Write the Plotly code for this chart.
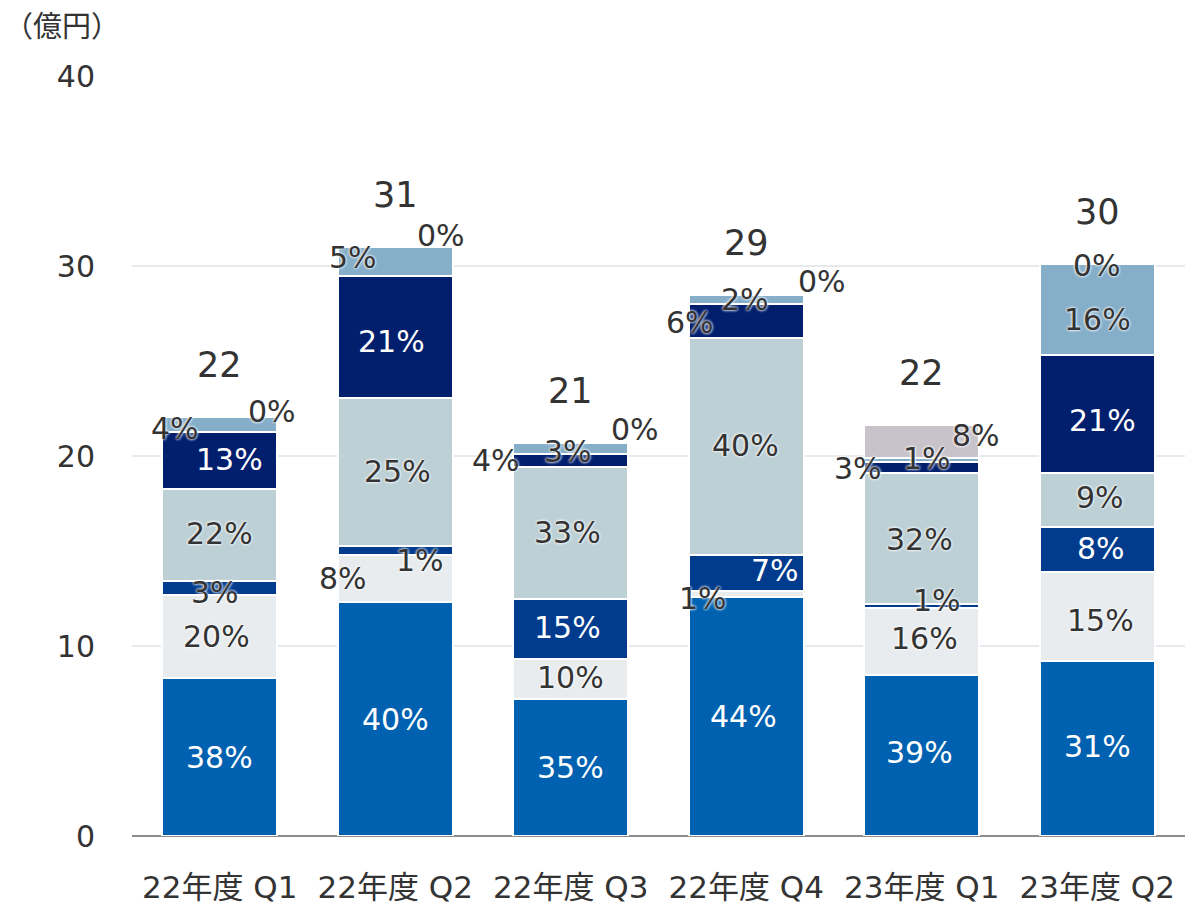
import plotly.graph_objects as go

# ---------------- data ----------------
categories = ["22年度 Q1", "22年度 Q2", "22年度 Q3", "22年度 Q4", "23年度 Q1", "23年度 Q2"]
totals_label = ["22", "31", "21", "29", "22", "30"]

# segment values (億円), bottom to top
seg1 = [8.3, 12.3, 7.2, 12.6, 8.5, 9.2]     # blue
seg2 = [4.4, 2.5, 2.1, 0.3, 3.5, 4.7]       # light gray
seg3 = [0.7, 0.45, 3.15, 1.9, 0.22, 2.35]   # medium navy
seg4 = [4.85, 7.8, 6.95, 11.4, 6.9, 2.85]   # light blue-gray
seg5 = [3.0, 6.4, 0.68, 1.8, 0.55, 6.2]     # dark navy
seg6 = [0.8, 1.55, 0.58, 0.5, 0.22, 4.8]    # steel blue
seg7 = [0.0, 0.0, 0.0, 0.0, 1.75, 0.0]      # gray

pct1 = ["38%", "40%", "35%", "44%", "39%", "31%"]
pct2 = ["20%", "8%", "10%", "1%", "16%", "15%"]
pct3 = ["3%", "1%", "15%", "7%", "1%", "8%"]
pct4 = ["22%", "25%", "33%", "40%", "32%", "9%"]
pct5 = ["13%", "21%", "4%", "6%", "3%", "21%"]
pct6 = ["4%", "5%", "3%", "2%", "1%", "16%"]
pct7 = ["0%", "0%", "0%", "0%", "8%", "0%"]

y_ticks = [0, 10, 20, 30, 40]
unit_label = "（億円）"

# ---------------- styles ----------------
series = [seg1, seg2, seg3, seg4, seg5, seg6, seg7]
pcts = [pct1, pct2, pct3, pct4, pct5, pct6, pct7]
colors = ["#0061B0", "#E8ECEF", "#003B8E", "#BCD0D6", "#021F6E", "#85AEC8", "#C8C3CA"]

# label offsets (xshift, yshift) in px (down positive), per series per category
offsets = [
    [(0, 0), (0, 0), (0, 0), (-3, 0), (-2, -3), (0, -2)],
    [(-3, 0), (-52, 0), (0, -2), (-43, 5), (3, -3), (3, 4)],
    [(-5, 4), (25, 10), (-3, -2), (29, -2), (15, -5), (4, -1)],
    [(0, -2), (2, -1), (-3, -1), (-1, -1), (-2, 1), (3, -3)],
    [(10, -1), (-4, 4), (-75, 0), (-56, 1), (-64, 1), (5, 6)],
    [(-45, 4), (-42, -4), (-3, 3), (-1, 0), (5, -2), (0, 10)],
    [(52, -6), (46, -12), (64, -14), (76, -13), (54, -6), (0, 1)],
]
white_text = [
    [True] * 6,
    [False] * 6,
    [False, False, True, True, False, True],
    [False] * 6,
    [True, True, False, False, False, True],
    [False] * 6,
    [False] * 6,
]

TXT = "#333333"
FONT = "DejaVu Sans, Noto Sans CJK JP, sans-serif"
CJK_FONT = "Noto Sans CJK JP, sans-serif"

fig = go.Figure()
for vals, col in zip(series, colors):
    fig.add_trace(go.Bar(
        x=categories, y=vals, marker=dict(color=col, line=dict(color="white", width=2)),
        width=0.655, hoverinfo="skip", showlegend=False,
    ))

annotations = []
n = len(categories)
for i in range(n):
    base = 0.0
    for s in range(len(series)):
        v = series[s][i]
        mid = base + v / 2
        dx, dy = offsets[s][i]
        wt = white_text[s][i]
        annotations.append(dict(
            x=categories[i], y=mid, xref="x", yref="y", text=pcts[s][i], showarrow=False,
            xshift=dx, yshift=-dy,
            font=dict(size=30, color="white" if wt else TXT, family=FONT,
                      shadow="none" if wt else "0px 0px 3px white, 0px 0px 3px white"),
        ))
        base += v
    annotations.append(dict(
        x=categories[i], y=base, xref="x", yref="y", text=totals_label[i], showarrow=False,
        yshift=52, font=dict(size=35, color=TXT, family=FONT),
    ))

annotations.append(dict(
    x=-130 / 1053, y=1.068, xref="paper", yref="paper", text=unit_label, showarrow=False,
    xanchor="left", yanchor="middle", font=dict(size=29, color=TXT, family=CJK_FONT),
))

fig.update_layout(
    barmode="stack",
    width=1186, height=904,
    margin=dict(l=132, r=1, t=76, b=68),
    paper_bgcolor="white", plot_bgcolor="white",
    font=dict(family=FONT, color=TXT, size=30),
    annotations=annotations,
)
fig.update_yaxes(
    range=[0, 40], tickvals=y_ticks, showgrid=True, gridcolor="#E6EAEE", gridwidth=1.5,
    zeroline=True, zerolinecolor="#8C8C8C", zerolinewidth=2,
    tickfont=dict(size=30, color=TXT), ticklabelstandoff=36, showline=False, automargin=False,
)
fig.update_xaxes(
    tickfont=dict(size=31, color=TXT), ticklabelstandoff=30, showline=False, automargin=False,
)

fig.write_html("out.html", config={"displayModeBar": False},
               post_script="document.body.style.margin='0px';")
